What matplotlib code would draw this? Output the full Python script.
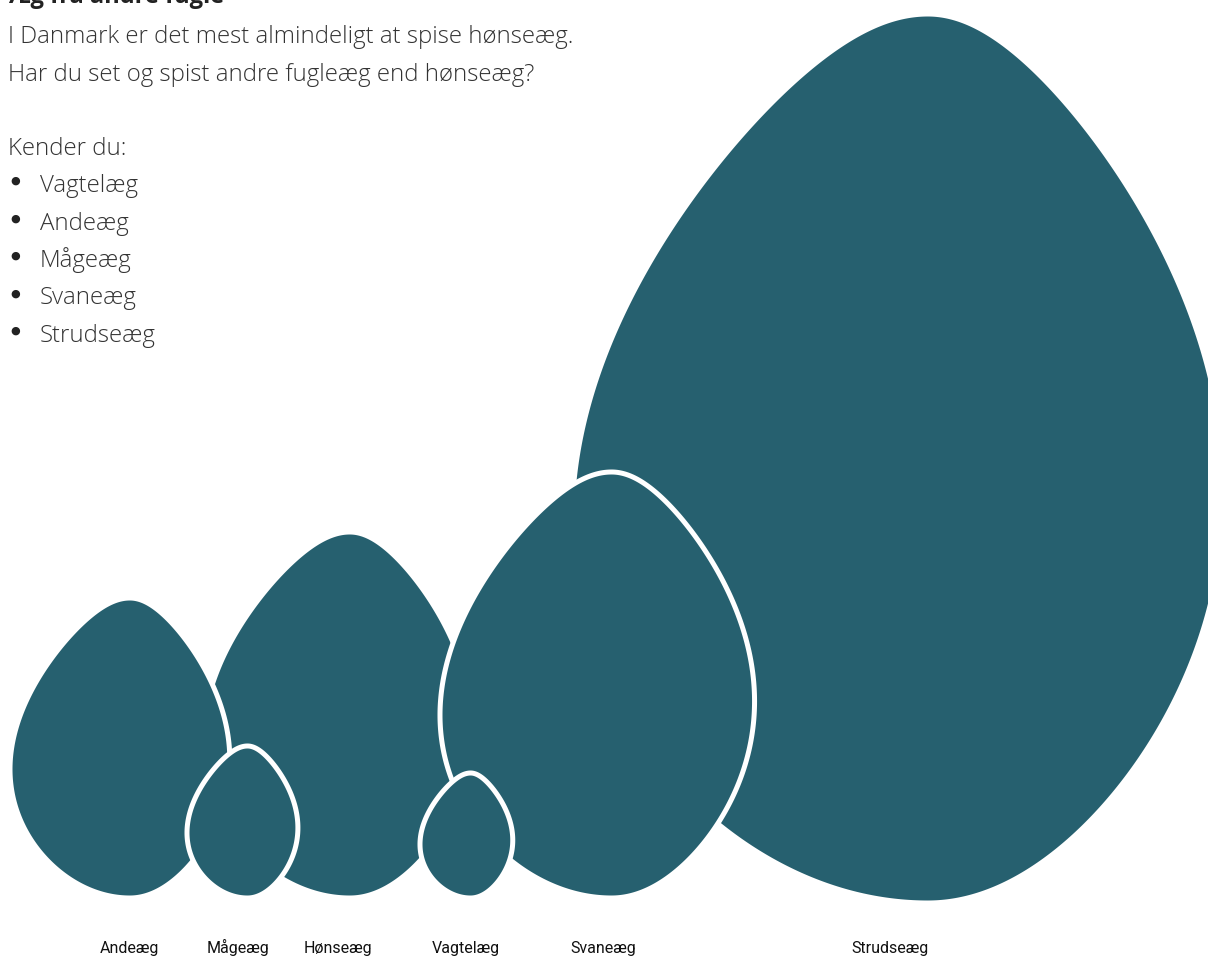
import numpy as np
import matplotlib.pyplot as plt
from matplotlib.patches import Polygon

# egg sizes (drawing units = pixels)
eggs = ['Andeæg', 'Mågeæg', 'Hønseæg', 'Vagtelæg', 'Svaneæg', 'Strudseæg']
egg_length = [300, 152, 366, 125, 426, 889]
egg_width = [218, 110, 267, 92, 312, 647]

title = 'Æg fra andre fugle'
intro = ['I Danmark er det mest almindeligt at spise hønseæg.',
         'Har du set og spist andre fugleæg end hønseæg?']
question = 'Kender du:'
known = ['Vagtelæg', 'Andeæg', 'Mågeæg', 'Svaneæg', 'Strudseæg']

# layout
egg_left = [10, 187, 203, 420, 440, 572]
egg_bottom = [898, 898, 898, 898, 898, 903]
label_x = [129, 238, 338, 466, 603, 890]
draw_order = [5, 2, 0, 4, 1, 3]   # ostrich at the back, quail on top
color = '#26606f'

# egg profile: half width = sqrt(s(1-s)) * (a + b*s + c*s*(1-s)), s = 0 at bottom, 1 at tip
spine = 0.55
left_coef = (1.12, -0.42, 0.70)
right_coef = (0.82, -0.20, 0.77)


def half_width(s, coef):
    a, b, c = coef
    return np.sqrt(s * (1 - s)) * (a + b * s + c * s * (1 - s))


def egg_outline(x0, y0, w, h):
    s = (1 - np.cos(np.linspace(0, np.pi, 300))) / 2
    right_u = spine + half_width(s, right_coef)
    left_u = spine - half_width(s, left_coef)
    u = np.concatenate([right_u, left_u[::-1]])
    v = np.concatenate([s, s[::-1]])
    return np.column_stack([x0 + u * w, y0 - v * h])


fig = plt.figure(figsize=(12.08, 9.58), dpi=100)
ax = fig.add_axes([0, 0, 1, 1])
ax.set_xlim(0, 1208)
ax.set_ylim(958, 0)
ax.axis('off')

for z, i in enumerate(draw_order):
    ax.add_patch(Polygon(egg_outline(egg_left[i], egg_bottom[i], egg_width[i], egg_length[i]),
                         closed=True, facecolor=color, edgecolor='white', lw=3.6,
                         joinstyle='round', zorder=2 + z))
    ax.text(label_x[i], 953, eggs[i], ha='center', va='baseline',
            fontsize=11.5, family='Roboto', color='#111111')

body = dict(family='Open Sans', fontweight='light', fontsize=17.3, color='#333333', va='baseline')
ax.text(8, 3, title, family='Open Sans', fontweight='bold', fontsize=17, color='#222222', va='baseline')
ax.text(8, 43, intro[0], **body)
ax.text(8, 81, intro[1], **body)
ax.text(8, 155, question, **body)
for k, name in enumerate(known):
    y = 192 + k * 37.5
    ax.text(15, y - 11, '●', family='DejaVu Sans', fontsize=8, color='#222222',
            ha='center', va='center')
    ax.text(40, y, name, **body)

fig.savefig('out.png', dpi=100)
